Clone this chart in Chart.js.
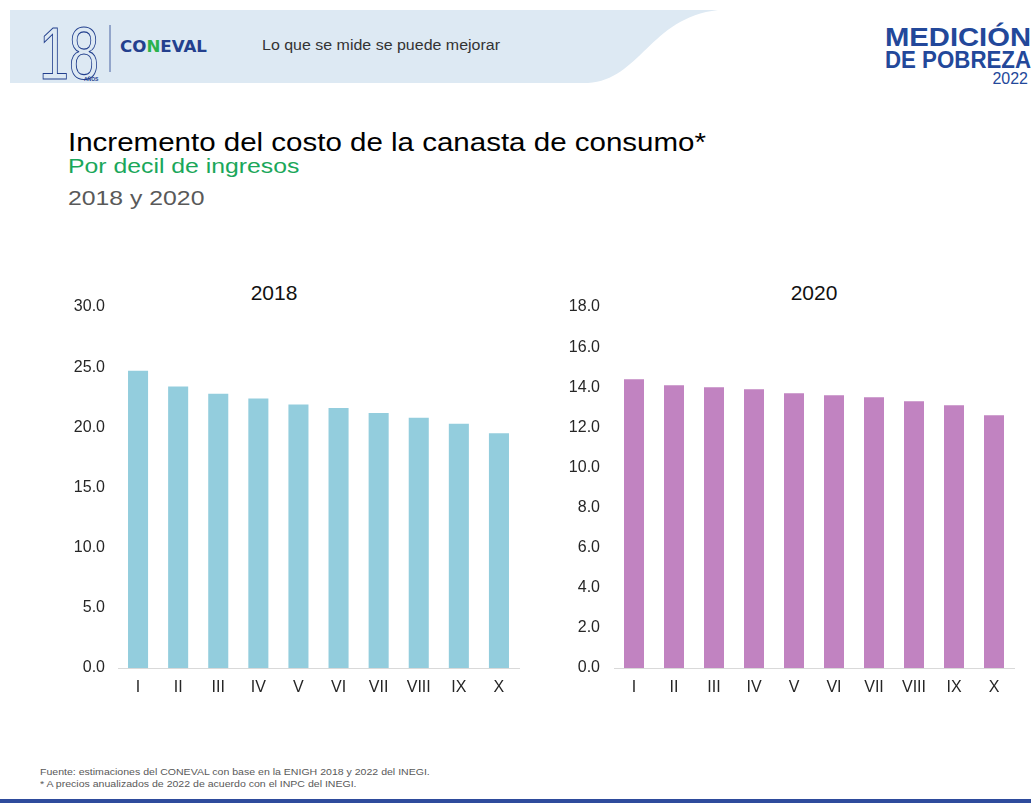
<!DOCTYPE html>
<html>
<head>
<meta charset="utf-8">
<script src="https://cdn.jsdelivr.net/npm/chart.js@4.4.1/dist/chart.umd.min.js"></script>
<style>
  body { margin: 0; width: 1031px; height: 810px; background: #fff; font-family: Arial, "Liberation Sans", sans-serif; overflow: hidden; position: relative; }
  .abs { position: absolute; }
  .wide { transform: scaleX(1.18); transform-origin: left top; white-space: nowrap; }
  #title { left: 68px; top: 128px; font-size: 25px; color: #000; }
  #sub1 { left: 68px; top: 154px; font-size: 21px; color: #1aa75a; }
  #sub2 { left: 68px; top: 186px; font-size: 21px; color: #595959; }
  .ctitle { top: 281px; width: 120px; margin-left: -60px; text-align: center; font-size: 21px; font-weight: normal; color: #111; white-space: nowrap; }
  .foot { left: 40px; font-size: 9.5px; color: #595959; white-space: nowrap; transform: scaleX(1.11); transform-origin: left top; }
  #bar { left: 0; top: 799px; width: 1031px; height: 4px; background: #2e4b9c; }
</style>
</head>
<body>
<svg class="abs" style="left:0;top:0" width="1031" height="100">
  <path d="M10 10 L718 10 C 650 18, 640 80, 588 83 L10 83 Z" fill="#dde9f3"/>
  <text x="39" y="79" font-family="Arial, Liberation Sans" font-size="74" fill="none" stroke="#23408e" stroke-width="1.1" textLength="60" lengthAdjust="spacingAndGlyphs">18</text>
  <text x="84" y="81" font-family="Arial, Liberation Sans" font-size="5" font-weight="bold" fill="#23408e">AÑOS</text>
  <line x1="110" y1="25" x2="110" y2="72" stroke="#23408e" stroke-width="0.8"/>
  <text x="120" y="52" font-family="DejaVu Sans, Arial" font-size="16" font-weight="bold" fill="#23408e" textLength="87" lengthAdjust="spacingAndGlyphs">CO<tspan fill="#2bb24c">N</tspan>EVAL</text>
  <text x="262" y="50" font-family="Arial, Liberation Sans" font-size="14" fill="#333" textLength="238" lengthAdjust="spacingAndGlyphs">Lo que se mide se puede mejorar</text>
  <text x="1031" y="46" text-anchor="end" font-family="Arial, Liberation Sans" font-size="26" font-weight="bold" fill="#23489a" textLength="146" lengthAdjust="spacingAndGlyphs">MEDICIÓN</text>
  <text x="1031" y="68" text-anchor="end" font-family="Arial, Liberation Sans" font-size="23" font-weight="bold" fill="#23489a" textLength="146" lengthAdjust="spacingAndGlyphs">DE POBREZA</text>
  <text x="1028" y="84" text-anchor="end" font-family="Arial, Liberation Sans" font-size="16" fill="#23489a">2022</text>
</svg>

<div id="title" class="abs wide">Incremento del costo de la canasta de consumo*</div>
<div id="sub1" class="abs wide">Por decil de ingresos</div>
<div id="sub2" class="abs wide">2018 y 2020</div>

<div class="abs ctitle" style="left:274px">2018</div>
<div class="abs ctitle" style="left:814px">2020</div>

<div class="abs" style="left:60px;top:280px;width:470px;height:420px"><canvas id="chart2018"></canvas></div>
<div class="abs" style="left:550px;top:280px;width:475px;height:420px"><canvas id="chart2020"></canvas></div>

<div class="abs foot" style="top:766px">Fuente: estimaciones del CONEVAL con base en la ENIGH 2018 y 2022 del INEGI.</div>
<div class="abs foot" style="top:778px">* A precios anualizados de 2022 de acuerdo con el INPC del INEGI.</div>
<div id="bar" class="abs"></div>

<script>
const deciles = ['I', 'II', 'III', 'IV', 'V', 'VI', 'VII', 'VIII', 'IX', 'X'];
const values2018 = [24.7, 23.4, 22.8, 22.4, 21.9, 21.6, 21.2, 20.8, 20.3, 19.5];
const values2020 = [14.4, 14.1, 14.0, 13.9, 13.7, 13.6, 13.5, 13.3, 13.1, 12.6];

const tickFont = { family: 'Arial, "Liberation Sans"', size: 16 };

function makeChart(id, title, data, color, max, step, axisWidth, pad) {
    return new Chart(document.getElementById(id), {
        type: 'bar',
        data: {
            labels: deciles,
            datasets: [{
                label: title,
                data: data,
                backgroundColor: color,
                barPercentage: 0.5,
                categoryPercentage: 1
            }]
        },
        options: {
            responsive: true,
            maintainAspectRatio: false,
            animation: false,
            layout: { padding: { right: 11, left: 0, top: 27, bottom: 0 } },
            plugins: {
                legend: { display: false },
                tooltip: { enabled: false }
            },
            scales: {
                x: {
                    grid: { display: false, drawTicks: false },
                    border: { display: true, color: '#d9d9d9', width: 1 },
                    ticks: { color: '#262626', font: tickFont, padding: 10 },
                    afterFit: s => { s.height = 32; }
                },
                y: {
                    min: 0, max: max,
                    grid: { display: false, drawTicks: false },
                    border: { display: false },
                    ticks: {
                        stepSize: step,
                        color: '#262626',
                        font: tickFont,
                        padding: pad,
                        callback: v => v.toFixed(1)
                    },
                    afterFit: s => { s.width = axisWidth; }
                }
            }
        }
    });
}

makeChart('chart2018', '2018', values2018, '#93cddd', 30, 5, 58, 13);
makeChart('chart2020', '2020', values2020, '#c183c1', 18, 2, 64, 14);
</script>
</body>
</html>
